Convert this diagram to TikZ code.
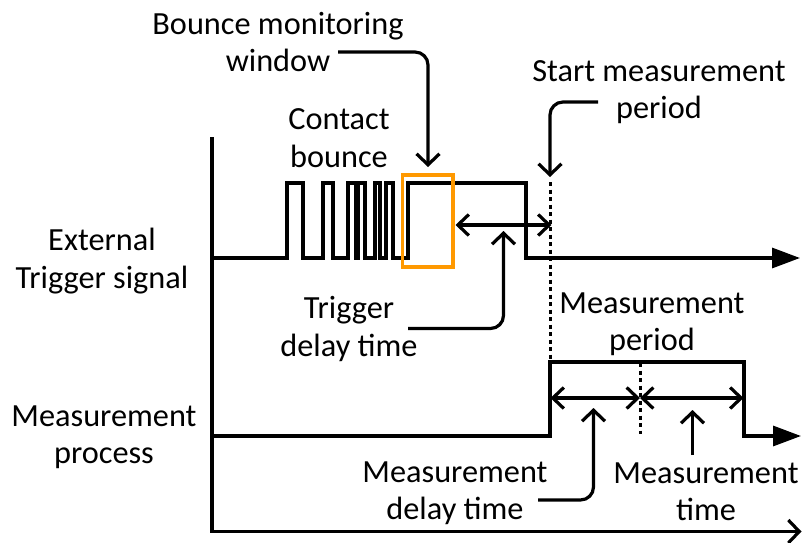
\documentclass[tikz,border=0pt]{standalone}
\usepackage{fontspec}
\setmainfont{Carlito}
\usetikzlibrary{arrows.meta}
\definecolor{winorange}{RGB}{255,153,0}
\begin{document}
\begin{tikzpicture}[x=1pt,y=-1pt,
  lbl/.style={inner sep=0pt, align=center, font=\fontsize{32.3}{37.5}\selectfont},
  wave/.style={line width=3.2pt, -{Triangle[length=28pt,width=20pt]}},
  axisline/.style={line width=3.2pt, -{Straight Barb[length=11pt,width=23pt]}},
  ann/.style={line width=3.2pt, rounded corners=13pt, -{Straight Barb[length=11pt,width=23pt]}},
  dim/.style={line width=3.2pt, {Straight Barb[length=11pt,width=21pt]}-{Straight Barb[length=11pt,width=21pt]}},
  dotline/.style={line width=3pt, dash pattern=on 4pt off 3.5pt},
  winbox/.style={draw=winorange, line width=3.2pt}]
\useasboundingbox (0,0) rectangle (803,543);

% labels
\node[lbl] (bmw) at (278,42) {Bounce monitoring\\window};
\node[lbl] (cb) at (339,138) {Contact\\bounce};
\node[lbl] (smp) at (659,92) {Start measurement\\period};
\node[lbl] (ext) at (102,261) {External\\Trigger signal};
\node[lbl] (tdt) at (349,329) {Trigger\\delay time};
\node[lbl] (mper) at (652,324) {Measurement\\period};
\node[lbl] (mproc) at (104,437) {Measurement\\process};
\node[lbl] (mdt) at (455,493) {Measurement\\delay time};
\node[lbl] (mt) at (706,492) {Measurement\\time};

% axes
\coordinate (axtop) at (212,137);
\coordinate (axorg) at (212,531.5);
\coordinate (axend) at (801.5,531.5);
\draw[axisline] (axtop) -- (axorg) -- (axend);

% external trigger signal
\draw[wave] (212,258) -- (287,258) -- (287,183) -- (303,183) -- (303,258)
  -- (323,258) -- (323,183) -- (333,183) -- (333,258)
  -- (348,258) -- (348,183) -- (356,183) -- (356,258) -- (358,258) -- (358,183)
  -- (365,183) -- (365,258) -- (375,258) -- (375,183) -- (380,183) -- (380,258)
  -- (386,258) -- (386,183) -- (393,183) -- (393,258) -- (408,258) -- (408,183)
  -- (526,183) -- (526,258) -- (800,258);

% bounce monitoring window
\draw[winbox] (402.5,175) rectangle (453,267);

% measurement process signal
\draw[wave] (212,436) -- (550,436) -- (550,362) -- (744,362) -- (744,436) -- (801,436);

% dotted markers
\coordinate (d1a) at (550,182);
\coordinate (d1b) at (550,360);
\draw[dotline] (d1a) -- (d1b);
\coordinate (d2a) at (640,363);
\coordinate (d2b) at (640,434);
\draw[dotline] (d2a) -- (d2b);

% dimension arrows
\coordinate (tdL) at (455.5,225);
\coordinate (tdR) at (551.5,225);
\draw[dim] (tdL) -- (tdR);
\coordinate (mdL) at (550.5,398);
\coordinate (mdM) at (640,398);
\coordinate (mdR) at (743.5,398);
\draw[dim] (mdL) -- (mdM);
\draw[dim] (mdM) -- (mdR);

% annotation arrows
\coordinate (bmwS) at (338,52);
\coordinate (bmwT) at (428,167);
\draw[ann] (bmwS) -| (bmwT);
\coordinate (smpS) at (598,102);
\coordinate (smpT) at (550,177);
\draw[ann] (smpS) -| (smpT);
\coordinate (tdtS) at (408,328.5);
\coordinate (tdtT) at (503.5,231);
\draw[ann] (tdtS) -| (tdtT);
\coordinate (mdtS) at (538,500);
\coordinate (mdtT) at (593.5,408);
\draw[ann] (mdtS) -| (mdtT);
\coordinate (mtS) at (692.5,455);
\coordinate (mtT) at (692.5,410);
\draw[ann] (mtS) -- (mtT);
\end{tikzpicture}
\end{document}
